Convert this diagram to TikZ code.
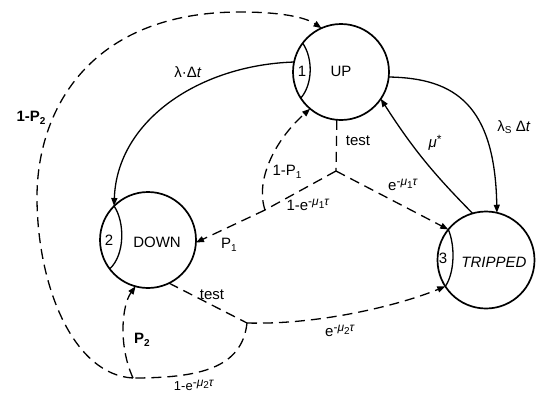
\documentclass[tikz,border=0pt]{standalone}
\usepackage{fontspec}
\setmainfont{Liberation Sans}
\usetikzlibrary{arrows.meta}
% raised and lowered text for exponents and indices
\newcommand\hiexp[1]{\raisebox{0.55ex}{\fontsize{12}{13}\selectfont #1}}
\newcommand\loidx[1]{\raisebox{-0.35ex}{\fontsize{10}{11}\selectfont #1}}
\begin{document}
\begin{tikzpicture}[x=1pt,y=-1pt,
  state/.style={circle,draw,line width=1.7pt,inner sep=0pt,outer sep=0pt},
  statename/.style={font=\fontsize{15}{18}\selectfont,inner sep=0pt},
  lbl/.style={font=\fontsize{15}{17}\selectfont,inner sep=1pt},
  biglbl/.style={font=\fontsize{15}{17}\selectfont\bfseries,inner sep=1pt},
  lens/.style={line width=1.3pt},
  trans/.style={line width=1.3pt,-{Triangle[length=8pt,width=6pt]}},
  ptrans/.style={trans,dash pattern=on 10pt off 6pt},
  pline/.style={line width=1.3pt,dash pattern=on 10pt off 6pt},
]
\useasboundingbox (0,0) rectangle (536,394);

% states
\node[state,minimum size=96pt] (up) at (341,72) {};
\node[state,minimum size=96pt] (down) at (148,240) {};
\node[state,minimum size=97pt] (tripped) at (486,260) {};

% numbered lenses on the left of each state
\draw[lens] (up.143) .. controls (313,58) and (313,84) .. (up.213);
\draw[lens] (down.135) .. controls (125,222) and (125,255) .. (down.217);
\draw[lens] (tripped.141) .. controls (455,245) and (455,272) .. (tripped.213);

\node[statename] (n1) at (302,71) {1};
\node[statename] (n2) at (109,240) {2};
\node[statename] (n3) at (443,258) {3};
\node[statename] (upname) at (341,71) {UP};
\node[statename] (downname) at (157,242) {DOWN};
\node[statename,font=\fontsize{15}{18}\selectfont\itshape] (trname) at (494,262) {TRIPPED};

% branching points of the test transitions
\coordinate (j1) at (336,171);
\coordinate (c1) at (265,210);
\coordinate (c2) at (247,323);
\coordinate (s) at (133,378);

% failure and repair transitions
\draw[trans] (up.168) .. controls (200,65) and (117,120) .. (down.135);
\draw[trans] (up.354) .. controls (455,78) and (495,105) .. (tripped.77);
\draw[trans] (tripped.106) to[bend left=6] (up.326);

% test from UP
\draw[pline] (up.265) -- (j1);
\draw[ptrans] (j1) -- (tripped.141);
\draw[pline] (j1) -- (c1);
\draw[ptrans] (c1) -- (down.357);
\draw[ptrans] (c1) .. controls (255,180) and (275,140) .. (up.230);

% test from DOWN
\draw[pline] (down.296) -- (c2);
\draw[ptrans] (c2) .. controls (320,325) and (400,305) .. (tripped.213);
\draw[pline] (c2) .. controls (242,368) and (200,378) .. (s);
\draw[ptrans] (s) .. controls (118,345) and (122,305) .. (down.255);
\draw[ptrans] (s) .. controls (75,375) and (38,290) .. (37,200)
  .. controls (36,110) and (90,12) .. (240,12)
  .. controls (280,12) and (305,17) .. (up.114);

% transition labels
\node[lbl] (l1) at (188,72) {λ·Δ\textit{t}};
\node[lbl] (l2) at (514,127) {λ\loidx{S} Δ\textit{t}};
\node[lbl] (l3) at (435,143) {\textit{μ}\hiexp{*}};
\node[lbl] (l4) at (358,141) {test};
\node[lbl] (l5) at (403,185) {e\hiexp{-\textit{μ}\loidx{1}\textit{τ}}};
\node[lbl] (l6) at (308,205) {1-e\hiexp{-\textit{μ}\loidx{1}\textit{τ}}};
\node[lbl] (l7) at (287,172) {1-P\loidx{1}};
\node[lbl] (l8) at (229,245) {P\loidx{1}};
\node[lbl] (l9) at (212,295) {test};
\node[lbl] (l10) at (340,331) {e\hiexp{-\textit{μ}\loidx{2}\textit{τ}}};
\node[lbl,font=\fontsize{13}{14}\selectfont] (l11) at (194,385) {1-e\hiexp{-\textit{μ}\loidx{2}\textit{τ}}};
\node[biglbl] (l12) at (142,340) {P\loidx{2}};
\node[biglbl] (l13) at (31,118) {1-P\loidx{2}};
\end{tikzpicture}
\end{document}
